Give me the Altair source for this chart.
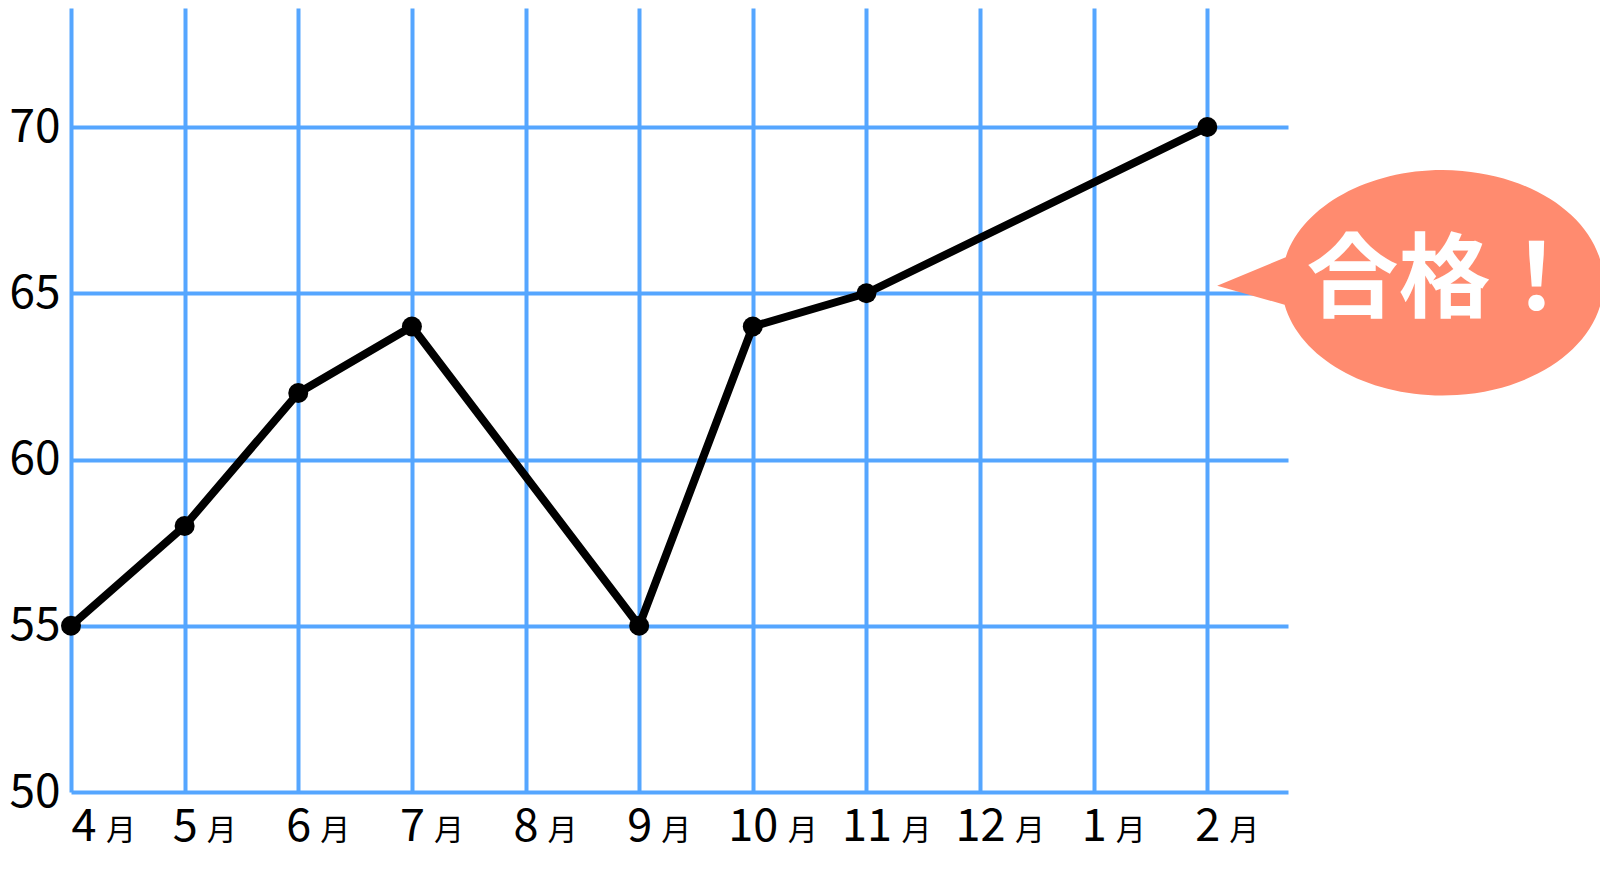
import altair as alt
import pandas as pd

months = ["4", "5", "6", "7", "8", "9", "10", "11", "12", "1", "2"]
scores = [55, 58, 62, 64, None, 55, 64, 65, None, None, 70]
y_ticks = [50, 55, 60, 65, 70]
month_suffix = "月"
callout_text = "合格！"
callout_pos = {"i": 12.07, "score": 65.31}

FONT = "Noto Sans CJK JP"
GRID = "#55a6ff"
SALMON = "#ff8b6f"

idx = list(range(len(months)))
df = pd.DataFrame({"i": idx, "month": months, "score": scores})
pts = df.dropna().copy()
labels = df.copy()
labels["suffix"] = month_suffix
labels["wide"] = [(len(m) > 1) or (k == 0) for k, m in zip(idx, months)]
callout = pd.DataFrame([{**callout_pos, "txt": callout_text}])

W, H = 1217, 784
label_arr = "[" + ",".join("'%s'" % m for m in months) + "]"

x_enc = alt.X(
    "i:Q",
    scale=alt.Scale(domain=[0, 10.71], nice=False, zero=False),
    axis=alt.Axis(
        values=idx, grid=True, gridColor=GRID, gridWidth=4, gridOpacity=1,
        domain=False, ticks=False, tickSize=0, title=None,
        labelExpr=label_arr + "[datum.value]",
        labelFont=FONT, labelFontSize=45, labelColor="black",
        labelBaseline="alphabetic", labelPadding=48, labelFlush=True,
        labelFlushOffset=0, labelOverlap=False,
    ),
)
y_enc = alt.Y(
    "score:Q",
    scale=alt.Scale(domain=[50, 73.58], nice=False, zero=False),
    axis=alt.Axis(
        values=y_ticks, grid=True, gridColor=GRID, gridWidth=4, gridOpacity=1,
        domain=False, ticks=False, tickSize=0, title=None,
        labelFont=FONT, labelFontSize=46, labelColor="black",
        labelPadding=11, labelBaseline="middle",
    ),
)

line = alt.Chart(pts).mark_line(color="black", strokeWidth=8, strokeCap="round",
                                strokeJoin="round").encode(x=x_enc, y=y_enc)
dots = alt.Chart(pts).mark_point(filled=True, color="black", size=400, opacity=1).encode(
    x=x_enc, y=y_enc)

suffix_narrow = alt.Chart(labels).transform_filter("!datum.wide").mark_text(
    font=FONT, fontSize=30, color="black", align="left", baseline="alphabetic", dx=22
).encode(x=x_enc, y=alt.value(H + 48), text="suffix:N")
suffix_wide = alt.Chart(labels).transform_filter("datum.wide").mark_text(
    font=FONT, fontSize=30, color="black", align="left", baseline="alphabetic", dx=35
).encode(x=x_enc, y=alt.value(H + 48), text="suffix:N")

bubble_path = "M -0.974 -0.16 A 1 0.7 0 1 1 -0.981 0.135 L -1.4 0.018 Z"
bubble = alt.Chart(callout).mark_point(
    shape=bubble_path, filled=True, color=SALMON, opacity=1, size=322 * 322, strokeWidth=0
).encode(x=x_enc, y=y_enc)
bubble_text = alt.Chart(callout).mark_text(
    font=FONT, fontSize=92, fontWeight="bold", color="white", align="center",
    baseline="middle", dx=2, dy=-1
).encode(x=x_enc, y=y_enc, text="txt:N")

chart = alt.layer(line, dots, suffix_narrow, suffix_wide, bubble, bubble_text).properties(
    width=W, height=H,
    autosize=alt.AutoSizeParams(type="none"),
    padding={"left": 63, "top": 0, "right": 312, "bottom": 60},
).configure_view(stroke=None)

chart.save("out.html", embed_options={"renderer": "svg", "actions": False})
